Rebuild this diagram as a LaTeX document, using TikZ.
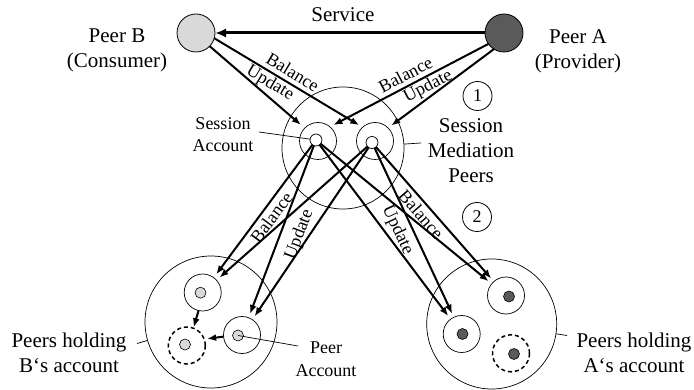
\documentclass[tikz,border=0pt]{standalone}
\usepackage{fontspec}
\setmainfont{Liberation Serif}
\usetikzlibrary{arrows.meta}
\definecolor{lightg}{HTML}{D9D9D9}
\definecolor{darkg}{HTML}{5A5A5A}
\begin{document}
\begin{tikzpicture}[x=1pt,y=-1pt,
  big/.style={font=\fontsize{21}{25}\selectfont, align=center, inner sep=1pt},
  small/.style={font=\fontsize{18}{22.5}\selectfont, align=center, inner sep=1pt},
  peer/.style={circle, draw, line width=0.8pt, minimum size=38pt, inner sep=0pt, outer sep=0pt},
  acct/.style={circle, draw, line width=0.7pt, minimum size=37pt, inner sep=0pt, outer sep=0pt},
  ring/.style={circle, draw, line width=0.7pt, inner sep=0pt, outer sep=0pt},
  tinyc/.style={circle, draw, line width=0.7pt, minimum size=12pt, inner sep=0pt, outer sep=0pt},
  dotc/.style={circle, draw, line width=0.6pt, minimum size=11pt, inner sep=0pt, outer sep=0pt},
  dashacct/.style={acct, line width=1.5pt, dash pattern=on 4pt off 3pt},
  flow/.style={line width=2pt, -{Latex[length=9pt,width=7pt]}},
  num/.style={circle, draw, line width=0.8pt, minimum size=29pt, inner sep=0pt, font=\fontsize{18}{20}\selectfont},
  lead/.style={line width=0.7pt},
]
\useasboundingbox (0,0) rectangle (694,390);

% peers
\node[peer, fill=lightg] (B) at (196,33) {};
\node[peer, fill=darkg] (A) at (504,33) {};
\node[big] (Blab) at (117,50.5) {Peer B\\(Consumer)};
\node[big] (Alab) at (578,51) {Peer A\\(Provider)};
\draw[line width=3pt, -{Latex[length=11pt,width=9pt]}] (A) -- (B)
  node[big, pos=0.526, above=9pt] (svc) {Service};

% mediation peers
\node[ring, minimum size=122pt] (med) at (343,148) {};
\node[acct] (accL) at (318,141) {};
\node[acct] (accR) at (375,141) {};
\node[tinyc, fill=white] (tinyL) at (316,140) {};
\node[tinyc, fill=white] (tinyR) at (372,142.5) {};
\node[small] (salab) at (223,134.5) {Session\\Account};
\coordinate (saend) at (259,132);
\draw[lead] (saend) -- (tinyL);
\coordinate (medtick) at (421,143);
\draw[lead] (med) -- (medtick);
\node[big] (medlab) at (471,150.5) {Session\\Mediation\\Peers};
\node[num] (n1) at (477.5,96) {1};
\node[num] (n2) at (477,217) {2};

% upper arrows
\draw[flow, shorten >=5pt] (B.-44) -- (accL.136);
\draw[flow, shorten >=4pt] (B.-16) -- (accR.132)
  node[small, sloped, pos=0.49, above=3pt] {Balance}
  node[small, sloped, pos=0.41, below=0pt] {Update};
\draw[flow, shorten >=4pt] (A.215) -- (accL.50)
  node[small, sloped, pos=0.49, above=3pt] {Balance}
  node[small, sloped, pos=0.41, below=0pt] {Update};
\draw[flow, shorten >=4pt] (A.238) -- (accR.45);

% account holders
\node[ring, minimum size=132pt] (bigL) at (211,322) {};
\node[ring, minimum size=130pt] (bigR) at (491.7,324) {};
\node[acct] (subLU) at (202.7,292.5) {};
\node[acct] (subLR) at (242,335) {};
\node[dashacct] (dashL) at (186.8,345.5) {};
\node[dotc, fill=lightg] (dLU) at (200.5,292.7) {};
\node[dotc, fill=lightg] (dLR) at (238,335.5) {};
\node[dotc, fill=lightg] (dLD) at (185,344.5) {};
\node[acct] (subRU) at (506,295.5) {};
\node[acct] (subRL) at (461.7,334) {};
\node[dashacct] (dashR) at (511,353.3) {};
\node[dotc, fill=darkg] (dRU) at (509,296.5) {};
\node[dotc, fill=darkg] (dRL) at (462.5,334) {};
\node[dotc, fill=darkg] (dRD) at (514,354) {};

% lower arrows
\draw[flow, shorten >=4pt] (tinyL) -- (subLU)
  node[small, sloped, pos=0.50, below=2pt] {Balance};
\draw[flow, shorten >=4pt] (tinyR) -- (subLU);
\draw[flow, shorten >=4pt] (tinyL) -- (subLR)
  node[small, sloped, pos=0.48, below=8pt] {Update};
\draw[flow, shorten >=4pt] (tinyR) -- (subLR);
\draw[flow, shorten >=4pt] (tinyR) -- (subRU)
  node[small, sloped, pos=0.45, below=2pt] {Balance};
\draw[flow, shorten >=4pt] (tinyL) -- (subRU);
\draw[flow, shorten >=4pt] (tinyR) -- (subRL)
  node[small, sloped, pos=0.45, below=4pt] {Update};
\draw[flow, shorten >=4pt] (tinyL) -- (subRL);

\draw[flow, shorten >=1pt] (subLU.257) -- (dashL.69);
\draw[flow, shorten >=3pt] (subLR.185) -- (dashL.20);

% labels
\coordinate (paend) at (298,346);
\draw[lead] (dLR.center) -- (paend);
\node[small] (palab) at (326,359) {Peer\\Account};
\node[big] (blab) at (69,352.5) {Peers holding\\B‘s account};
\node[big] (alab) at (634,352.5) {Peers holding\\A‘s account};
\coordinate (btick) at (137,343.5);
\draw[lead] (bigL) -- (btick);
\coordinate (atick) at (567,335.5);
\draw[lead] (bigR) -- (atick);
\end{tikzpicture}
\end{document}
